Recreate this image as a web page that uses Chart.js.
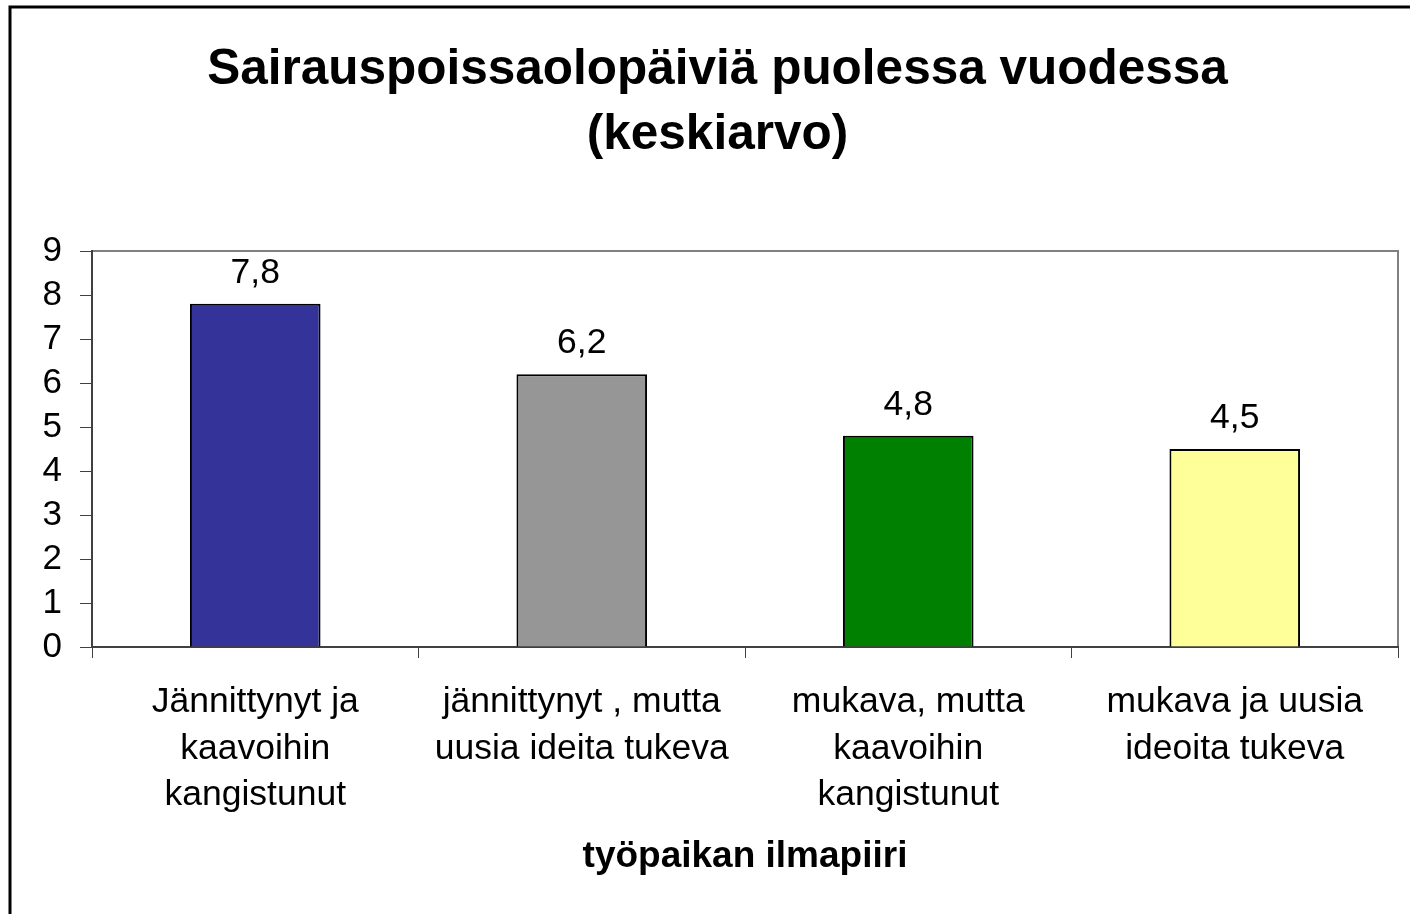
<!DOCTYPE html>
<html>
<head>
<meta charset="utf-8">
<script src="https://cdn.jsdelivr.net/npm/chart.js@4.4.1/dist/chart.umd.min.js"></script>
<style>
html,body{margin:0;padding:0;background:#fff;}
#wrap{width:1410px;height:914px;position:relative;}
</style>
</head>
<body>
<div id="wrap"><canvas id="c" width="1410" height="914"></canvas></div>
<script>
const titleLines = ["Sairauspoissaolopäiviä puolessa vuodessa", "(keskiarvo)"];
const xAxisTitle = "työpaikan ilmapiiri";
const categories = [
  ["Jännittynyt ja", "kaavoihin", "kangistunut"],
  ["jännittynyt , mutta", "uusia ideita tukeva"],
  ["mukava, mutta", "kaavoihin", "kangistunut"],
  ["mukava ja uusia", "ideoita tukeva"]
];
const values = [7.8, 6.2, 4.8, 4.5];
const barColors = ["#333399", "#969696", "#008000", "#FFFF99"];
const yTicks = [0, 1, 2, 3, 4, 5, 6, 7, 8, 9];

const FONT = "'Liberation Sans', Arial, sans-serif";

const framePlugin = {
  id: 'frame',
  beforeDraw(chart) {
    const ctx = chart.ctx;
    ctx.save();
    ctx.fillStyle = '#fff';
    ctx.fillRect(0, 0, chart.width, chart.height);
    ctx.strokeStyle = '#000';
    ctx.lineWidth = 3;
    ctx.strokeRect(10, 7, 1600, 1200);
    const a = chart.chartArea;
    ctx.strokeStyle = '#808080';
    ctx.lineWidth = 2;
    ctx.beginPath();
    ctx.moveTo(a.left, a.top);
    ctx.lineTo(a.right, a.top);
    ctx.lineTo(a.right, a.bottom);
    ctx.stroke();
    ctx.fillStyle = '#000';
    ctx.font = "bold 49.5px " + FONT;
    ctx.textAlign = 'center';
    ctx.textBaseline = 'middle';
    ctx.fillText(titleLines[0], 717.5, 70);
    ctx.fillText(titleLines[1], 717.5, 135);
    ctx.restore();
  },
  afterDatasetsDraw(chart) {
    const ctx = chart.ctx;
    const meta = chart.getDatasetMeta(0);
    ctx.save();
    ctx.fillStyle = '#000';
    ctx.font = "35.5px " + FONT;
    ctx.textAlign = 'center';
    ctx.textBaseline = 'alphabetic';
    meta.data.forEach((bar, i) => {
      const txt = String(values[i]).replace('.', ',');
      ctx.fillText(txt, bar.x, bar.y - 21);
    });
    ctx.restore();
  }
};

new Chart(document.getElementById('c'), {
  type: 'bar',
  data: {
    labels: categories,
    datasets: [{
      data: values,
      backgroundColor: barColors,
      borderColor: '#000',
      borderWidth: 2,
      barPercentage: 0.4,
      categoryPercentage: 1.0
    }]
  },
  options: {
    responsive: false,
    animation: false,
    devicePixelRatio: 1,
    layout: { padding: { top: 251, right: 12, bottom: 35, left: 0 } },
    plugins: { legend: { display: false }, tooltip: { enabled: false }, title: { display: false } },
    scales: {
      x: {
        grid: { drawOnChartArea: false, tickLength: 11, color: '#404040', lineWidth: 1, offset: true },
        border: { color: '#404040', width: 2 },
        ticks: { color: '#000', font: { family: FONT, size: 35.5, lineHeight: 1.31 }, padding: 21, maxRotation: 0, autoSkip: false },
        title: { display: true, text: xAxisTitle, color: '#000', font: { family: FONT, size: 37, weight: 'bold', lineHeight: 1.2 }, padding: 0 },
        afterFit(scale) { scale.height = 232; }
      },
      y: {
        min: 0, max: 9,
        afterBuildTicks(scale) { scale.ticks = yTicks.map(v => ({ value: v })); },
        grid: { drawOnChartArea: false, tickLength: 12, color: '#404040', lineWidth: 1 },
        border: { color: '#404040', width: 2 },
        ticks: { color: '#000', font: { family: FONT, size: 35 }, padding: 18, stepSize: 1, autoSkip: false },
        afterFit(scale) { scale.width = 92; }
      }
    }
  },
  plugins: [framePlugin]
});
</script>
</body>
</html>
